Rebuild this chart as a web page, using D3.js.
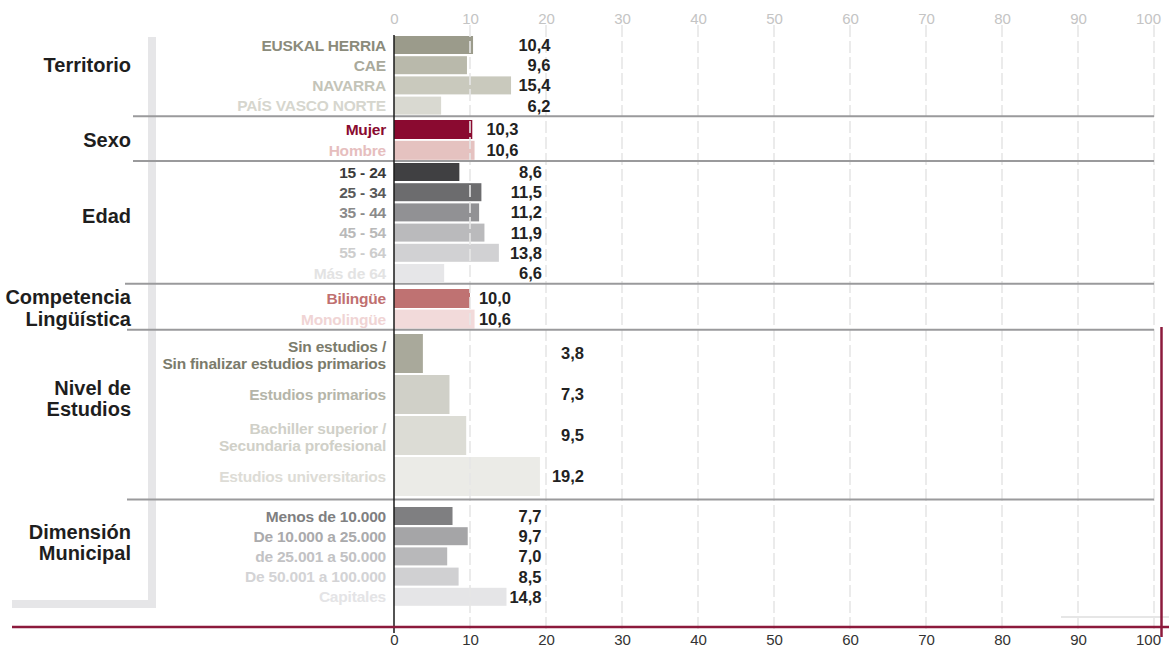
<!DOCTYPE html>
<html>
<head>
<meta charset="utf-8">
<script src="https://cdn.jsdelivr.net/npm/d3@7"></script>
<style>
  html, body { margin: 0; padding: 0; background: #fff; }
  svg { display: block; font-family: "Liberation Sans", Arial, sans-serif; }
</style>
</head>
<body>
<svg id="chart" width="1169" height="648"></svg>
<script>
// ---- data ----
const groupTitles = [["Territorio"], ["Sexo"], ["Edad"], ["Competencia", "Lingüística"], ["Nivel de", "Estudios"], ["Dimensión", "Municipal"]];

const territorioLabels = ["EUSKAL HERRIA", "CAE", "NAVARRA", "PAÍS VASCO NORTE"];
const territorioValues = [10.4, 9.6, 15.4, 6.2];

const sexoLabels = ["Mujer", "Hombre"];
const sexoValues = [10.3, 10.6];

const edadLabels = ["15 - 24", "25 - 34", "35 - 44", "45 - 54", "55 - 64", "Más de 64"];
const edadValues = [8.6, 11.5, 11.2, 11.9, 13.8, 6.6];

const competenciaLabels = ["Bilingüe", "Monolingüe"];
const competenciaValues = [10.0, 10.6];

const estudiosLabels = [["Sin estudios /", "Sin finalizar estudios primarios"], ["Estudios primarios"], ["Bachiller superior /", "Secundaria profesional"], ["Estudios universitarios"]];
const estudiosValues = [3.8, 7.3, 9.5, 19.2];

const municipalLabels = ["Menos de 10.000", "De 10.000 a 25.000", "de 25.001 a 50.000", "De 50.001 a 100.000", "Capitales"];
const municipalValues = [7.7, 9.7, 7.0, 8.5, 14.8];

const axisTicks = [0, 10, 20, 30, 40, 50, 60, 70, 80, 90, 100];

// ---- styling & layout ----
const groups = [
  { labels: territorioLabels, values: territorioValues, start: 36, pitch: 20.2, barH: 18, titleY: 65, valueX: 550.5, sepX: 133,
    bar: ["#9b9b8b", "#b9b9ab", "#c9c9bd", "#d9d9d1"], text: ["#8b8b7b", "#a9a99b", "#c4c4b8", "#d6d6ce"] },
  { labels: sexoLabels, values: sexoValues, start: 120, pitch: 20.8, barH: 19, titleY: 140, valueX: 518.5, sepX: 133,
    bar: ["#8a0a30", "#e5c2c0"], text: ["#8a0a30", "#e6bebe"] },
  { labels: edadLabels, values: edadValues, start: 163, pitch: 20.2, barH: 18, titleY: 216, valueX: 542, sepX: 133,
    bar: ["#404042", "#6c6c6e", "#919194", "#bababc", "#d1d1d3", "#e6e6e8"], text: ["#3a3a3a", "#5a5a5a", "#8a8a8a", "#b9b9b9", "#cdcdcd", "#e3e3e3"] },
  { labels: competenciaLabels, values: competenciaValues, start: 289, pitch: 20.6, barH: 19, titleY: 308, valueX: 511, sepX: 125,
    bar: ["#bf7272", "#f2dada"], text: ["#c07070", "#f0d4d4"] },
  { labels: estudiosLabels, values: estudiosValues, start: 334, pitch: 41, barH: 39, titleY: 398.5, valueX: 584, sepX: 127,
    bar: ["#a9a99b", "#d0d0c8", "#dcdcd5", "#ebebe7"], text: ["#7b7b6b", "#b5b5a9", "#d0d0c8", "#dddcd6"] },
  { labels: municipalLabels, values: municipalValues, start: 507, pitch: 20.2, barH: 18, titleY: 542.5, valueX: 541.5, sepX: 127,
    bar: ["#7f7f81", "#a5a5a7", "#b8b8ba", "#d0d0d2", "#e5e5e7"], text: ["#7f7f81", "#aaaaac", "#c2c2c4", "#d3d3d5", "#e4e4e6"] }
];

const crimson = "#8c1a3c";
const svg = d3.select("#chart");

const x = d3.scaleLinear().domain([0, 100]).range([394, 1154]);
const fmt = v => d3.format(".1f")(v).replace(".", ",");

// left bracket
svg.append("rect").attr("x", 148).attr("y", 37).attr("width", 8).attr("height", 571).attr("fill", "#e6e6e8");
svg.append("rect").attr("x", 12).attr("y", 600).attr("width", 144).attr("height", 8).attr("fill", "#e6e6e8");

// per-group row scales
groups.forEach(g => {
  g.y = d3.scaleLinear().domain([0, g.values.length]).range([g.start, g.start + g.pitch * g.values.length]);
});

// bars
groups.forEach(g => {
  const rows = g.values.map((v, i) => ({ v, i }));
  svg.append("g").selectAll("rect").data(rows).join("rect")
    .attr("x", x(0))
    .attr("y", d => g.y(d.i))
    .attr("width", d => x(d.v) - x(0))
    .attr("height", g.barH)
    .attr("fill", d => g.bar[d.i]);
});

// gridlines (over bars)
svg.append("g").selectAll("line").data(axisTicks.slice(1)).join("line")
  .attr("x1", d => x(d)).attr("x2", d => x(d))
  .attr("y1", 25).attr("y2", 630)
  .attr("stroke", "#e6e6e6").attr("stroke-width", 1.6)
  .attr("stroke-dasharray", "12,4");

// group separators
groups.slice(0, -1).forEach((g, k) => {
  const yy = g.y(g.values.length) - 0.5 + (k === 4 ? 2 : 0);
  svg.append("line").attr("x1", groups[k + 1].sepX).attr("x2", x(100)).attr("y1", yy).attr("y2", yy)
    .attr("stroke", "#9a9a9c").attr("stroke-width", 2);
});

// category labels, values, group titles
groups.forEach((g, gi) => {
  g.values.forEach((v, i) => {
    const cy = g.y(i) + g.barH / 2;
    const lines = Array.isArray(g.labels[i]) ? g.labels[i] : [g.labels[i]];
    const lh = 16.3;
    const t = svg.append("text")
      .attr("x", 386).attr("text-anchor", "end")
      .attr("font-size", 15.5).attr("font-weight", "bold").attr("letter-spacing", -0.2)
      .attr("fill", g.text[i]);
    lines.forEach((s, j) => {
      t.append("tspan").attr("x", 386)
        .attr("y", cy + (j - (lines.length - 1) / 2) * lh + (lines.length > 1 ? 1.5 : 0))
        .attr("dy", "0.36em").text(s);
    });
    svg.append("text")
      .attr("x", g.valueX).attr("y", cy).attr("dy", "0.36em")
      .attr("text-anchor", "end").attr("font-size", 16.5).attr("font-weight", "bold")
      .attr("fill", "#222").text(fmt(v));
  });
  const tl = groupTitles[gi];
  const tt = svg.append("text").attr("text-anchor", "end").attr("font-size", 20)
    .attr("font-weight", "bold").attr("fill", "#1e1e1e");
  tl.forEach((s, j) => {
    tt.append("tspan").attr("x", 131)
      .attr("y", g.titleY + (j - (tl.length - 1) / 2) * 21.5)
      .attr("dy", "0.36em").text(s);
  });
});

// zero line
svg.append("line").attr("x1", x(0)).attr("x2", x(0)).attr("y1", 35).attr("y2", 633)
  .attr("stroke", "#1a1a1a").attr("stroke-width", 1.5);

// top axis
const topAxis = svg.append("g").attr("transform", "translate(0,23.5)")
  .call(d3.axisTop(x).tickValues(axisTicks).tickSize(0).tickPadding(0).tickFormat(d3.format("d")));
topAxis.select(".domain").remove();
topAxis.selectAll("text").attr("font-size", 15).attr("fill", "#c4c4c4")
  .attr("font-family", "Liberation Sans, Arial, sans-serif").attr("dy", "0");
topAxis.selectAll("text").filter(d => d === 100).attr("dx", -6);

// bottom axis
const bottomAxis = svg.append("g").attr("transform", "translate(0,634)")
  .call(d3.axisBottom(x).tickValues(axisTicks).tickSize(0).tickPadding(0).tickFormat(d3.format("d")));
bottomAxis.select(".domain").remove();
bottomAxis.selectAll("text").attr("font-size", 15).attr("fill", "#333")
  .attr("font-family", "Liberation Sans, Arial, sans-serif").attr("dy", "0.72em");
bottomAxis.selectAll("text").filter(d => d === 100).attr("dx", -6);

// frame accents
svg.append("line").attr("x1", 1061).attr("x2", 1169).attr("y1", 617).attr("y2", 617)
  .attr("stroke", "#e6e6e6").attr("stroke-width", 2);
svg.append("line").attr("x1", 12).attr("x2", 1169).attr("y1", 627).attr("y2", 627)
  .attr("stroke", crimson).attr("stroke-width", 2.5);
svg.append("line").attr("x1", 1161.5).attr("x2", 1161.5).attr("y1", 327).attr("y2", 637)
  .attr("stroke", crimson).attr("stroke-width", 2.5);
</script>
</body>
</html>
